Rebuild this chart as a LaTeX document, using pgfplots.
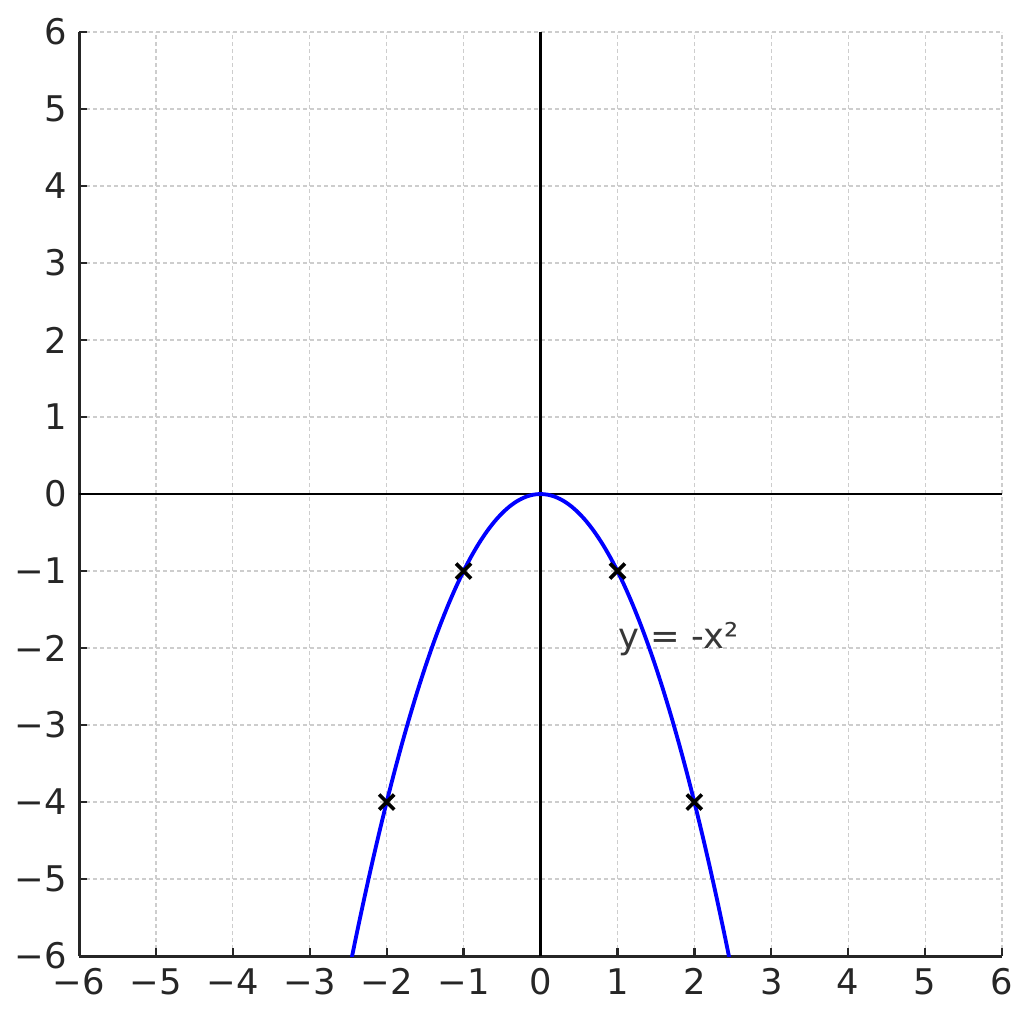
\documentclass[border=0pt]{standalone}
\usepackage{pgfplots}
\pgfplotsset{compat=1.18}
\usepackage{fontspec}
\setmainfont{DejaVu Sans}
\definecolor{gridc}{RGB}{205,205,205}
\definecolor{labc}{RGB}{55,55,55}
\definecolor{tickc}{RGB}{38,38,38}
\begin{document}
\begin{tikzpicture}
\fontsize{10.6}{12}\selectfont
\begin{axis}[
  scale only axis,
  width=276.9pt, height=277.2pt,
  xmin=-6, xmax=6, ymin=-6, ymax=6,
  xtick={-6,-5,-4,-3,-2,-1,0,1,2,3,4,5,6},
  ytick={-6,-5,-4,-3,-2,-1,0,1,2,3,4,5,6},
  xticklabels={−6,−5,−4,−3,−2,−1,0,1,2,3,4,5,6},
  yticklabels={−6,−5,−4,−3,−2,−1,0,1,2,3,4,5,6},
  ticklabel style={font=\fontsize{10.6}{12}\selectfont, text=tickc},
  axis x line*=bottom, axis y line*=left,
  axis line style={line width=0.9pt, color=tickc, -},
  tick style={line width=0.7pt, color=tickc},
  major tick length=2.4pt,
  tick align=inside,
  grid=major,
  major grid style={gridc, dashed, line width=0.35pt, dash pattern=on 1.2pt off 0.9pt},
  clip=true,
]
\addplot[black, line width=0.75pt, forget plot] coordinates {(-6,0) (6,0)};
\addplot[black, line width=0.75pt, forget plot] coordinates {(0,-6) (0,6)};
\addplot[blue, line width=1.15pt, smooth, no marks] coordinates {
(-2.5,-6.25) (-2.4,-5.76) (-2.3,-5.29) (-2.2,-4.84) (-2.1,-4.41) (-2.0,-4.00)
(-1.9,-3.61) (-1.8,-3.24) (-1.7,-2.89) (-1.6,-2.56) (-1.5,-2.25) (-1.4,-1.96)
(-1.3,-1.69) (-1.2,-1.44) (-1.1,-1.21) (-1.0,-1.00) (-0.9,-0.81) (-0.8,-0.64)
(-0.7,-0.49) (-0.6,-0.36) (-0.5,-0.25) (-0.4,-0.16) (-0.3,-0.09) (-0.2,-0.04)
(-0.1,-0.01) (0,0) (0.1,-0.01) (0.2,-0.04) (0.3,-0.09) (0.4,-0.16) (0.5,-0.25)
(0.6,-0.36) (0.7,-0.49) (0.8,-0.64) (0.9,-0.81) (1.0,-1.00) (1.1,-1.21)
(1.2,-1.44) (1.3,-1.69) (1.4,-1.96) (1.5,-2.25) (1.6,-2.56) (1.7,-2.89)
(1.8,-3.24) (1.9,-3.61) (2.0,-4.00) (2.1,-4.41) (2.2,-4.84) (2.3,-5.29)
(2.4,-5.76) (2.5,-6.25)};
\addplot[only marks, mark=x, mark size=3.2pt, mark options={black, line width=1.1pt}] coordinates {
(-2,-4) (-1,-1) (1,-1) (2,-4)};
\node[anchor=base west, inner sep=0pt, text=labc, font=\fontsize{10.6}{12}\selectfont] at (axis cs:1,-2) {y = -x²};
\coordinate (ll) at (rel axis cs:0,0);
\coordinate (ur) at (rel axis cs:1,1);
\end{axis}
\path (ll) ++(-23.7pt,-18.9pt) coordinate (bb1);
\path (ur) ++(9.3pt,9.6pt) coordinate (bb2);
\useasboundingbox (bb1) rectangle (bb2);
\end{tikzpicture}
\end{document}
